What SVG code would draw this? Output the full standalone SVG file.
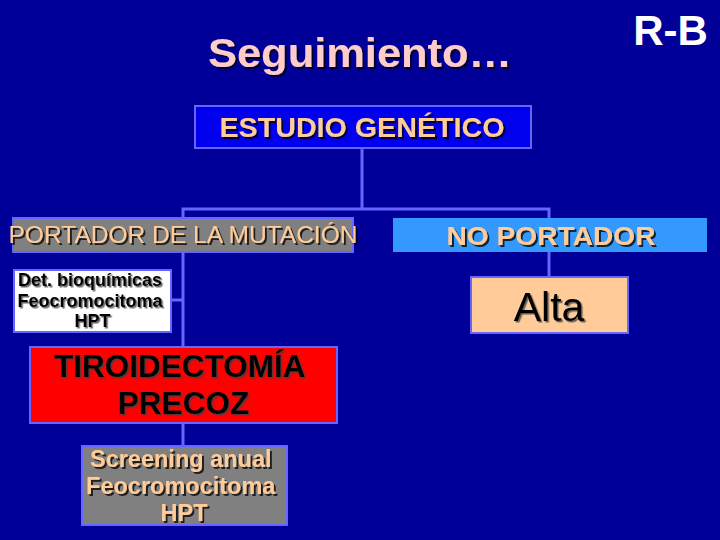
<svg xmlns="http://www.w3.org/2000/svg" width="720" height="540" viewBox="0 0 720 540">
<defs>
<filter id="sh" x="-10%" y="-30%" width="120%" height="160%">
<feDropShadow dx="2" dy="2" stdDeviation="0.4" flood-color="#000000" flood-opacity="0.75"/>
</filter>
<filter id="sh2" x="-10%" y="-30%" width="120%" height="160%">
<feDropShadow dx="1.5" dy="1.5" stdDeviation="0.4" flood-color="#404040" flood-opacity="0.8"/>
</filter>
</defs>
<style>
.t{font-family:"Liberation Sans",Arial,sans-serif;text-anchor:middle}
.b{font-weight:bold}
.peach{fill:#ffcc99}
.box{stroke:#6666ff;stroke-width:2}
.conn{stroke:#6666ff;stroke-width:3;fill:none}
</style>
<rect x="0" y="0" width="720" height="540" fill="#000099"/>
<g id="title">
<text class="t b" x="360" y="67" font-size="40" fill="#ffcccc" textLength="304" lengthAdjust="spacingAndGlyphs" filter="url(#sh)">Seguimiento…</text>
</g>
<g id="rb">
<text class="t b" x="670.5" y="45" font-size="42" fill="#ffffff">R-B</text>
</g>
<g id="connectors">
<polyline class="conn" points="362,148 362,209"/>
<polyline class="conn" points="183,347 183,209 549,209 549,277"/>
<polyline class="conn" points="171,300 183,300"/>
<polyline class="conn" points="183,423 183,446"/>
</g>
<g id="estudio">
<rect class="box" x="195" y="106" width="336" height="42" fill="#0000ee"/>
<text class="t b peach" x="362" y="137" font-size="27" textLength="285" lengthAdjust="spacingAndGlyphs" filter="url(#sh)">ESTUDIO GENÉTICO</text>
</g>
<g id="portador">
<rect class="box" x="13" y="218" width="340" height="34" fill="#808080"/>
<text class="t peach" x="183" y="243" font-size="24" textLength="349" lengthAdjust="spacingAndGlyphs" filter="url(#sh)">PORTADOR DE LA MUTACIÓN</text>
</g>
<g id="noportador">
<rect x="393" y="218" width="314" height="34" fill="#3399ff"/>
<text class="t b peach" x="551" y="245" font-size="26" textLength="209" lengthAdjust="spacingAndGlyphs" filter="url(#sh)">NO PORTADOR</text>
</g>
<g id="det">
<rect class="box" x="14" y="270" width="157" height="62" fill="#ffffff"/>
<text class="t b" font-size="18" fill="#000000" filter="url(#sh2)">
<tspan x="92.5" y="286">Det. bioquímicas</tspan>
<tspan x="92.5" y="307">Feocromocitoma</tspan>
<tspan x="92.5" y="327">HPT</tspan>
</text>
</g>
<g id="alta">
<rect class="box" x="471" y="277" width="157" height="56" fill="#ffcc99"/>
<text class="t" x="549" y="321" font-size="41" fill="#000000" filter="url(#sh2)">Alta</text>
</g>
<g id="tiroidectomia">
<rect class="box" x="30" y="347" width="307" height="76" fill="#ff0000"/>
<text class="t b" font-size="31.5" fill="#000000" filter="url(#sh2)">
<tspan x="183.5" y="377">TIROIDECTOMÍA</tspan>
<tspan x="183.5" y="414">PRECOZ</tspan>
</text>
</g>
<g id="screening">
<rect class="box" x="82" y="446" width="205" height="79" fill="#808080"/>
<text class="t b peach" font-size="23.5" filter="url(#sh)">
<tspan x="184" y="467">Screening anual</tspan>
<tspan x="184" y="494">Feocromocitoma</tspan>
<tspan x="184" y="521">HPT</tspan>
</text>
</g>
</svg>
